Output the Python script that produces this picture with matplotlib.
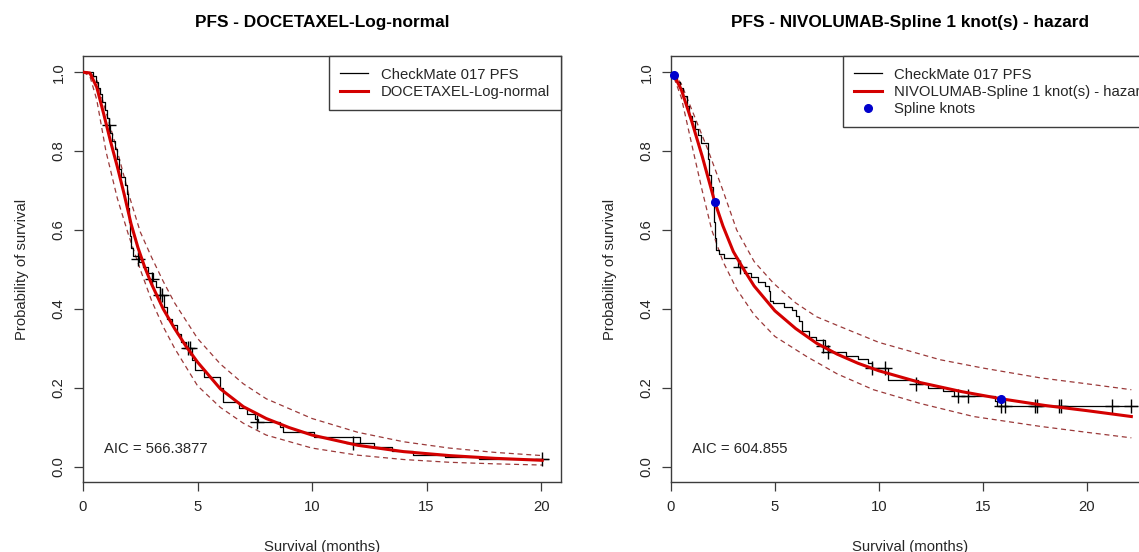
import numpy as np
import matplotlib.pyplot as plt

plt.rcParams['font.family'] = ['Liberation Sans', 'DejaVu Sans']
plt.rcParams['font.size'] = 10.7

#%% data
# left panel - docetaxel, log-normal fit
doc_km_t = [0, 0.43, 0.55, 0.65, 0.75, 0.85, 0.95, 1.05, 1.12, 1.2, 1.28, 1.38, 1.48,
            1.58, 1.68, 1.82, 1.9, 1.95, 2.0, 2.05, 2.1, 2.18, 2.45, 2.6, 2.85, 3.05,
            3.2, 3.35, 3.55, 3.65, 3.9, 4.1, 4.3, 4.5, 4.75, 4.9, 5.3, 6.0, 6.13, 6.8,
            7.15, 7.5, 7.65, 8.6, 8.75, 10.1, 12.1, 12.7, 13.5, 14.4, 15.8, 17.3, 20.3]
doc_km_s = [1.0, 0.99, 0.975, 0.96, 0.945, 0.925, 0.905, 0.885, 0.865, 0.845, 0.825,
            0.805, 0.78, 0.755, 0.735, 0.715, 0.69, 0.655, 0.62, 0.585, 0.555, 0.535,
            0.52, 0.505, 0.49, 0.47, 0.455, 0.435, 0.405, 0.375, 0.36, 0.335, 0.315,
            0.3, 0.27, 0.245, 0.228, 0.2, 0.165, 0.148, 0.133, 0.12, 0.113, 0.1, 0.088,
            0.075, 0.06, 0.05, 0.04, 0.03, 0.024, 0.02, 0.02]
doc_cens_t = [1.12, 2.4, 3.0, 3.38, 3.45, 4.6, 4.66, 7.6, 11.8, 20.05]
doc_cens_s = [0.865, 0.527, 0.475, 0.435, 0.435, 0.3, 0.3, 0.113, 0.06, 0.02]

doc_fit_t = [0, 0.3, 0.6, 0.9, 1.2, 1.5, 1.8, 2.1, 2.4, 2.7, 3.0, 3.5, 4.0, 4.5, 5,
             6, 7, 8, 9, 10, 12, 14, 16, 18, 20.05]
doc_fit_s = [1.0, 0.998, 0.962, 0.895, 0.825, 0.76, 0.69, 0.615, 0.555, 0.505, 0.462,
             0.4, 0.35, 0.305, 0.265, 0.197, 0.152, 0.122, 0.099, 0.08, 0.054, 0.038,
             0.028, 0.021, 0.016]
doc_hi_t = [0, 0.3, 0.6, 1.0, 1.5, 2.0, 2.5, 3.0, 3.5, 4.0, 5.0, 6.0, 7.0, 8.0, 10,
            12, 14, 16, 18, 20.05]
doc_hi_s = [1.0, 1.0, 0.98, 0.9, 0.8, 0.69, 0.595, 0.53, 0.47, 0.415, 0.325, 0.26,
            0.21, 0.172, 0.122, 0.087, 0.063, 0.047, 0.036, 0.028]
doc_lo_t = [0, 0.3, 0.6, 1.0, 1.5, 2.0, 2.5, 3.0, 3.5, 4.0, 5.0, 6.0, 7.0, 8.0, 10,
            12, 14, 16, 18, 20.05]
doc_lo_s = [1.0, 0.99, 0.93, 0.8, 0.68, 0.585, 0.5, 0.42, 0.355, 0.3, 0.205, 0.15,
            0.11, 0.08, 0.047, 0.029, 0.018, 0.011, 0.007, 0.004]
doc_aic = 'AIC = 566.3877'

# right panel - nivolumab, spline with 1 knot on hazard scale
niv_km_t = [0, 0.1, 0.3, 0.45, 0.6, 0.75, 0.88, 1.0, 1.15, 1.3, 1.45, 1.8, 1.85, 1.92,
            2.0, 2.05, 2.1, 2.15, 2.3, 2.55, 3.2, 3.5, 3.85, 4.2, 4.5, 4.7, 4.75, 4.9,
            5.45, 5.8, 6.0, 6.15, 6.3, 6.65, 7.0, 7.4, 7.55, 8.4, 9.0, 9.5, 9.65, 10.45,
            11.9, 12.35, 13.1, 13.6, 15.6, 15.7, 22.4]
niv_km_s = [1.0, 0.992, 0.975, 0.96, 0.94, 0.915, 0.89, 0.875, 0.855, 0.84, 0.82, 0.78,
            0.74, 0.71, 0.67, 0.62, 0.58, 0.55, 0.54, 0.53, 0.505, 0.492, 0.48, 0.468,
            0.458, 0.445, 0.42, 0.415, 0.405, 0.396, 0.383, 0.37, 0.345, 0.328, 0.32,
            0.305, 0.29, 0.28, 0.272, 0.263, 0.25, 0.22, 0.21, 0.2, 0.192, 0.18, 0.166,
            0.153, 0.153]
niv_cens_t = [3.32, 7.33, 7.57, 9.67, 10.3, 11.8, 13.83, 14.3, 15.87, 16.08, 17.5,
              17.6, 18.65, 18.76, 21.2, 22.13]
niv_cens_s = [0.505, 0.305, 0.29, 0.25, 0.25, 0.21, 0.18, 0.18, 0.153, 0.153, 0.153,
              0.153, 0.153, 0.153, 0.153, 0.153]

niv_fit_t = [0.15, 0.5, 1.0, 1.5, 2.1, 2.5, 3.0, 3.5, 4.0, 5, 6, 7, 8, 9, 10, 12, 14,
             16, 18, 20, 22.15]
niv_fit_s = [0.992, 0.955, 0.875, 0.787, 0.672, 0.61, 0.545, 0.5, 0.458, 0.395, 0.35,
             0.313, 0.285, 0.262, 0.243, 0.213, 0.19, 0.171, 0.155, 0.142, 0.127]
niv_hi_t = [0.15, 0.5, 1.0, 1.8, 2.5, 3.16, 4.0, 4.93, 6, 7, 8.14, 10, 12.95, 15,
            17.77, 20, 22.15]
niv_hi_s = [0.997, 0.97, 0.905, 0.8, 0.7, 0.6, 0.52, 0.465, 0.415, 0.38, 0.355, 0.315,
            0.271, 0.25, 0.225, 0.21, 0.195]
niv_lo_t = [0.15, 0.5, 1.07, 1.5, 1.96, 2.5, 3.16, 4, 5, 6.53, 8, 9.74, 12, 14.56,
            17.77, 20, 22.15]
niv_lo_s = [0.985, 0.935, 0.8, 0.7, 0.6, 0.52, 0.45, 0.385, 0.33, 0.279, 0.235, 0.195,
            0.16, 0.127, 0.102, 0.087, 0.073]
niv_knot_t = [0.15, 2.12, 15.9]
niv_knot_s = [0.992, 0.672, 0.172]
niv_aic = 'AIC = 604.855'

#%% plotting
W, H = 1139, 552
fig = plt.figure(figsize=(W / 100, H / 100), dpi=100)

ax_w, ax_h = 478, 426
ax_b = H - 482.4
ax1 = fig.add_axes([83 / W, ax_b / H, ax_w / W, ax_h / H])
ax2 = fig.add_axes([671 / W, ax_b / H, ax_w / W, ax_h / H])

ci_col = '#9b3a3a'
fit_col = '#d40000'
frame_col = '#3c3c3c'
txt_col = '#262626'


def km_panel(ax, title, km_t, km_s, cens_t, cens_s, fit_t, fit_s,
             hi_t, hi_s, lo_t, lo_s, fit_label, aic, xmax):
    ax.step(km_t, km_s, where='post', color='black', lw=0.9,
            label='CheckMate 017 PFS', zorder=3)
    ax.plot(cens_t, cens_s, ls='none', marker='+', ms=10, mew=1.0,
            color='black', zorder=3)
    ax.plot(fit_t, fit_s, color=fit_col, lw=2.2, label=fit_label, zorder=4)
    ax.plot(hi_t, hi_s, color=ci_col, lw=0.9, dashes=(4, 3), zorder=2)
    ax.plot(lo_t, lo_s, color=ci_col, lw=0.9, dashes=(4, 3), zorder=2)

    ax.set_xlim(0, xmax)
    ax.set_ylim(-0.04, 1.04)
    ax.set_xticks([0, 5, 10, 15, 20])
    ax.set_yticks([0.0, 0.2, 0.4, 0.6, 0.8, 1.0])
    ax.set_yticklabels(['0.0', '0.2', '0.4', '0.6', '0.8', '1.0'])
    ax.tick_params(direction='out', length=6.5, width=0.9, color=frame_col,
                   labelcolor=txt_col, labelsize=10.7)
    ax.tick_params(axis='x', pad=6)
    ax.tick_params(axis='y', labelrotation=90, pad=6)
    for lab in ax.get_yticklabels():
        lab.set_va('center')
    for sp in ax.spines.values():
        sp.set_color(frame_col)
        sp.set_linewidth(1.0)

    ax.set_xlabel('Survival (months)', color=txt_col)
    ax.xaxis.set_label_coords(0.5, -64.5 / ax_h)
    ax.xaxis.label.set_va('center')
    ax.set_ylabel('Probability of survival', color=txt_col)
    ax.yaxis.set_label_coords(-61 / ax_w, 0.5)
    ax.yaxis.label.set_va('center')
    ax.yaxis.label.set_ha('center')

    ax.set_title(title, fontweight='bold', fontsize=12.4, y=1 + 34 / ax_h,
                 pad=0, va='center')
    ax.text(0.043, 33.5 / ax_h, aic, transform=ax.transAxes, ha='left',
            va='center', color=txt_col)


km_panel(ax1, 'PFS - DOCETAXEL-Log-normal', doc_km_t, doc_km_s, doc_cens_t,
         doc_cens_s, doc_fit_t, doc_fit_s, doc_hi_t, doc_hi_s, doc_lo_t, doc_lo_s,
         'DOCETAXEL-Log-normal', doc_aic, 20.87)
km_panel(ax2, 'PFS - NIVOLUMAB-Spline 1 knot(s) - hazard', niv_km_t, niv_km_s,
         niv_cens_t, niv_cens_s, niv_fit_t, niv_fit_s, niv_hi_t, niv_hi_s,
         niv_lo_t, niv_lo_s, 'NIVOLUMAB-Spline 1 knot(s) - hazard', niv_aic, 23.0)
ax2.plot(niv_knot_t, niv_knot_s, ls='none', marker='o', ms=5.5, color='#0000cc',
         label='Spline knots', zorder=5, clip_on=False)

leg_opts = dict(borderaxespad=0, fancybox=False, framealpha=1, edgecolor=frame_col,
                handlelength=1.85, handletextpad=0.85, labelspacing=0.22,
                borderpad=0.75, fontsize=10.7)
leg1 = ax1.legend(loc='upper right', **leg_opts)
# the right legend runs off the edge of the picture, as in the original
leg2 = ax2.legend(loc='upper left', bbox_to_anchor=((843 - 671) / ax_w, 1.0),
                  **leg_opts)
for leg in (leg1, leg2):
    leg.get_frame().set_linewidth(1.0)
    for txt in leg.get_texts():
        txt.set_color(txt_col)

plt.savefig('out.png', dpi=100)
